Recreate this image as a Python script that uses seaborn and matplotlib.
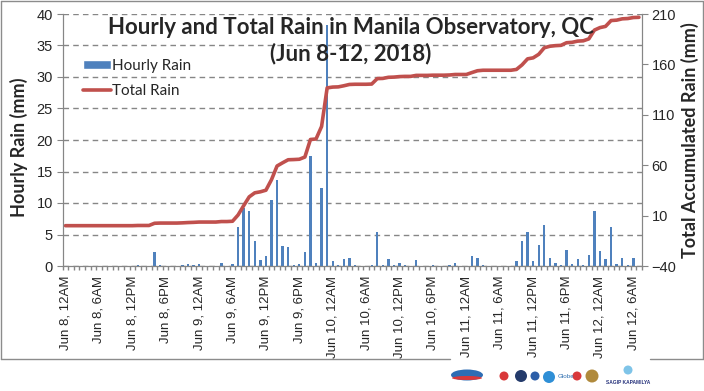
import numpy as np
import pandas as pd
import seaborn as sns
import matplotlib.pyplot as plt
from matplotlib.patches import Patch, Ellipse
from matplotlib.lines import Line2D

# hourly rain (mm), one value per hour from Jun 8 12AM
hourly_rain = [0, 0, 0, 0, 0, 0, 0, 0, 0, 0, 0, 0,
               0, 0.2, 0, 0, 2.2, 0.2, 0, 0, 0, 0.2, 0.3, 0.2,
               0.3, 0, 0, 0, 0.5, 0, 0.3, 6.2, 9.2, 8.8, 4.0, 1.0,
               1.6, 10.4, 13.6, 3.2, 3.0, 0.2, 0.3, 2.2, 17.4, 0.5, 12.4, 38.3,
               0.8, 0.2, 1.1, 1.3, 0.2, 0, 0, 0.2, 5.4, 0.2, 1.1, 0.2,
               0.5, 0.2, 0, 1.0, 0, 0, 0.2, 0, 0, 0.2, 0.5, 0,
               0, 1.6, 1.3, 0.2, 0, 0, 0, 0, 0, 0.8, 4.0, 5.4,
               0.8, 3.3, 6.5, 1.3, 0.5, 0.2, 2.5, 0.3, 1.1, 0.2, 1.8, 8.7,
               2.4, 1.1, 6.2, 0.3, 1.3, 0.2, 1.3, 0]

# total accumulated rain (mm)
total_rain = [0, 0, 0, 0, 0, 0, 0, 0, 0, 0, 0, 0,
              0, 0.2, 0.2, 0.2, 2.4, 2.6, 2.6, 2.6, 2.6, 2.8, 3.1, 3.3,
              3.6, 3.6, 3.6, 3.6, 4.1, 4.1, 4.4, 10.6, 19.8, 28.6, 32.6, 33.6,
              35.2, 45.6, 59.2, 62.4, 65.4, 65.6, 65.9, 68.1, 85.5, 86.0, 98.4, 136.7,
              137.5, 137.7, 138.8, 140.1, 140.3, 140.3, 140.3, 140.5, 145.9, 146.1, 147.2, 147.4,
              147.9, 148.1, 148.1, 149.1, 149.1, 149.1, 149.3, 149.3, 149.3, 149.5, 150.0, 150.0,
              150.0, 151.9, 153.7, 154.2, 154.2, 154.2, 154.2, 154.2, 154.2, 155.0, 159.5, 165.5,
              166.5, 170.0, 176.5, 178.0, 178.6, 178.9, 181.5, 181.9, 183.1, 183.4, 185.3, 194.0,
              196.5, 197.7, 203.5, 203.9, 205.2, 205.5, 206.5, 206.7]

times = pd.date_range("2018-06-08 00:00", periods=len(hourly_rain), freq="h")
hour_labels = [f"Jun {t.day}, {t.strftime('%I').lstrip('0')}{t.strftime('%p')}" for t in times]

df = pd.DataFrame({"time": hour_labels, "hourly": hourly_rain, "total": total_rain})

BLUE = "#4F81BD"
RED = "#C0504D"
GRAY = "#868686"
W, H = 704, 391

sns.set_style("white")
plt.rcParams['font.family'] = ['Liberation Sans', 'DejaVu Sans']

fig = plt.figure(figsize=(W / 100, H / 100), dpi=100)
ax = fig.add_axes([62.7 / W, 1 - 266 / H, 579 / W, 252 / H])

sns.barplot(data=df, x="time", y="hourly", color=BLUE, width=0.42, saturation=1, ax=ax,
            zorder=2, linewidth=0, edgecolor='none')
n = len(df)
ax.set_ylim(0, 40)
ax.set_yticks(range(0, 41, 5))
ax.yaxis.grid(True, color=GRAY, linestyle=(0, (4, 3)), linewidth=1)
ax.xaxis.grid(False)
ax.set_axisbelow(True)
ax.set_xticks(range(0, n, 6))
ax.set_xticklabels(df["time"][::6], rotation=90)
ax.set_xticks(np.arange(-0.5, n, 1), minor=True)
ax.tick_params(axis='x', which='major', length=0, pad=7, labelsize=9.5)
ax.tick_params(axis='x', which='minor', bottom=True, length=3, color=GRAY, width=1)
ax.tick_params(axis='y', left=True, length=4, color=GRAY, labelsize=10.5, pad=3)
ax.set_xlabel("")
ax.set_ylabel("")
ax.spines['top'].set_visible(False)
for s in ['left', 'bottom', 'right']:
    ax.spines[s].set_color(GRAY)

ax2 = ax.twinx()
sns.lineplot(x=np.arange(n), y=df["total"], ax=ax2, color=RED, linewidth=2.6)
ax2.set_ylim(-40, 210)
ax2.set_yticks(range(-40, 211, 50))
ax2.tick_params(axis='y', right=True, length=4, color=GRAY, labelsize=10.5, pad=3)
ax2.set_ylabel("")
ax2.grid(False)
ax2.spines['top'].set_visible(False)
for s in ['left', 'bottom', 'right']:
    ax2.spines[s].set_color(GRAY)
ax.set_xlim(-0.5, n - 0.5)

# titles and axis labels
tfont = ['Lato', 'DejaVu Sans']
fig.text(351 / W, 1 - 28 / H, "Hourly and Total Rain in Manila Observatory, QC",
         ha='center', va='center', fontsize=16, fontweight='bold', family=tfont)
fig.text(351 / W, 1 - 54 / H, "(Jun 8-12, 2018)",
         ha='center', va='center', fontsize=16, fontweight='bold', family=tfont)
fig.text(19 / W, 1 - 147 / H, "Hourly Rain (mm)", rotation=90, ha='center', va='center',
         fontsize=13, fontweight='bold', family=tfont)
fig.text(690 / W, 1 - 140 / H, "Total Accumulated Rain (mm)", rotation=90, ha='center', va='center',
         fontsize=13, fontweight='bold', family=tfont)

handles = [Patch(facecolor=BLUE, label="Hourly Rain"),
           Line2D([], [], color=RED, lw=2.6, label="Total Rain")]
fig.legend(handles=handles, loc="upper left", bbox_to_anchor=(83 / W, 1 - 59 / H),
           frameon=False, prop={'family': tfont, 'size': 11}, handlelength=1.8,
           handleheight=0.6, handletextpad=0.1, labelspacing=0.7, borderpad=0, borderaxespad=0)

# chart border
def px(x, y):
    return x / W, 1 - y / H

for (x0, y0), (x1, y1) in [((1, 1), (703, 1)), ((1, 1), (1, 359)), ((703, 1), (703, 359)),
                           ((1, 359), (450, 359)), ((650, 359), (703, 359))]:
    a, b = px(x0, y0)
    c, d = px(x1, y1)
    fig.add_artist(Line2D([a, c], [b, d], transform=fig.transFigure, color="#8C8C8C", lw=1))

# sponsor logos (simple stand-ins)
def dot(x, y, r, color):
    cx, cy = px(x, y)
    fig.add_artist(Ellipse((cx, cy), 2 * r / W, 2 * r / H, transform=fig.transFigure,
                           facecolor=color, edgecolor='none'))

cx, cy = px(467, 375)
fig.add_artist(Ellipse((cx, cy), 32 / W, 11 / H, transform=fig.transFigure, facecolor="#2E6DB4", edgecolor='none'))
cx, cy = px(467, 378)
fig.add_artist(Ellipse((cx, cy), 30 / W, 4 / H, transform=fig.transFigure, facecolor="#D9383A", edgecolor='none'))
dot(504, 376, 4.5, "#D9383A")
dot(521, 376, 6, "#243B6B")
dot(535, 376, 4.5, "#2D5FA8")
dot(549, 377, 6, "#2F8FD6")
fig.text(*px(558, 377), "Globe", fontsize=4.5, color="#2F6FB0", va='center', ha='left')
dot(577, 376, 4.5, "#D9383A")
dot(592, 376, 6.5, "#B08A3C")
dot(628, 370, 4.5, "#7FC4E8")
fig.text(*px(628, 383), "SAGIP KAPAMILYA", fontsize=3.5, color="#24307A", fontweight='bold',
         va='center', ha='center')

fig.savefig("out.png", dpi=100)
